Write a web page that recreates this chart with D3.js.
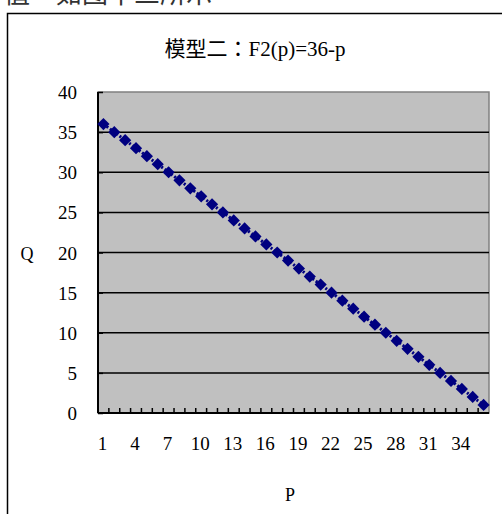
<!DOCTYPE html>
<html>
<head>
<meta charset="utf-8">
<script src="https://cdn.jsdelivr.net/npm/d3@7"></script>
<style>
  body { margin: 0; background: #fff; }
  text { font-family: "Liberation Serif", "Noto Sans CJK TC", serif; fill: #000; }
</style>
</head>
<body>
<div id="viz"></div>
<script>
// data
var categories = d3.range(1, 37); // P = 1..36
var qValues = [36, 35, 34, 33, 32, 31, 30, 29, 28, 27, 26, 25, 24, 23, 22, 21, 20, 19,
               18, 17, 16, 15, 14, 13, 12, 11, 10, 9, 8, 7, 6, 5, 4, 3, 2, 1];
var yTicks = [0, 5, 10, 15, 20, 25, 30, 35, 40];
var xTickLabels = [1, 4, 7, 10, 13, 16, 19, 22, 25, 28, 31, 34];
var title = "模型二：F2(p)=36-p";

var dataset = categories.map(function (c, i) { return { p: c, q: qValues[i] }; });

var W = 502, H = 514;
var plot = { left: 98, right: 489, top: 92, bottom: 413 };

var svg = d3.select("#viz").append("svg")
  .attr("width", W).attr("height", H);

// cut-off document text above the chart
svg.append("text")
  .attr("x", 4).attr("y", 3)
  .style("font-family", "Noto Sans CJK TC")
  .style("font-size", "26px")
  .style("fill", "#333")
  .text("值，如图十三所示");

// outer frame
svg.append("rect")
  .attr("x", 7.5).attr("y", 13.5)
  .attr("width", W + 20).attr("height", H + 20)
  .attr("fill", "#fff").attr("stroke", "#000").attr("stroke-width", 1.5);

var x = d3.scaleBand().domain(categories).range([plot.left, plot.right]).padding(0);
var y = d3.scaleLinear().domain([0, 40]).range([plot.bottom, plot.top]);

// plot area
svg.append("rect")
  .attr("x", plot.left).attr("y", plot.top)
  .attr("width", plot.right - plot.left).attr("height", plot.bottom - plot.top)
  .attr("fill", "#c0c0c0").attr("stroke", "#808080").attr("stroke-width", 1.5);

// gridlines
svg.selectAll(".grid")
  .data(yTicks.filter(function (d) { return d > 0 && d < 40; }))
  .enter().append("line")
  .attr("class", "grid")
  .attr("x1", plot.left).attr("x2", plot.right)
  .attr("y1", function (d) { return y(d); })
  .attr("y2", function (d) { return y(d); })
  .attr("stroke", "#000").attr("stroke-width", 1.5);

// y axis
var yAxis = d3.axisRight(y).tickValues(yTicks).tickSize(5).tickFormat("");
svg.append("g")
  .attr("transform", "translate(" + plot.left + ",0)")
  .call(yAxis)
  .call(function (g) {
    g.select(".domain").remove();
    g.selectAll("line").attr("stroke", "#000").attr("stroke-width", 1.5);
  });
svg.append("line")
  .attr("x1", plot.left).attr("x2", plot.left)
  .attr("y1", plot.top).attr("y2", plot.bottom)
  .attr("stroke", "#000").attr("stroke-width", 2);

svg.selectAll(".ylab")
  .data(yTicks)
  .enter().append("text")
  .attr("class", "ylab")
  .attr("x", 77)
  .attr("y", function (d) { return y(d) + 7; })
  .style("text-anchor", "end")
  .style("font-size", "19px")
  .text(function (d) { return d; });

// x axis: ticks at category boundaries pointing inward
var edges = categories.slice(1);
svg.selectAll(".xtick")
  .data(edges)
  .enter().append("line")
  .attr("class", "xtick")
  .attr("x1", function (d) { return x(d); })
  .attr("x2", function (d) { return x(d); })
  .attr("y1", plot.bottom).attr("y2", plot.bottom - 5)
  .attr("stroke", "#000").attr("stroke-width", 1.5);
svg.append("line")
  .attr("x1", plot.left).attr("x2", plot.right)
  .attr("y1", plot.bottom).attr("y2", plot.bottom)
  .attr("stroke", "#000").attr("stroke-width", 2);

svg.selectAll(".xlab")
  .data(xTickLabels)
  .enter().append("text")
  .attr("class", "xlab")
  .attr("x", function (d) { return x(d) + x.bandwidth() / 2 - 1; })
  .attr("y", 450)
  .style("text-anchor", "middle")
  .style("font-size", "19px")
  .text(function (d) { return d; });

// axis titles
svg.append("text")
  .attr("x", 27).attr("y", 260)
  .style("text-anchor", "middle")
  .style("font-size", "18px")
  .text("Q");
svg.append("text")
  .attr("x", 290).attr("y", 501)
  .style("text-anchor", "middle")
  .style("font-size", "18px")
  .text("P");

// chart title
svg.append("text")
  .attr("x", 255).attr("y", 56)
  .style("text-anchor", "middle")
  .style("font-size", "21px")
  .text(title);

// series line (dotted) and diamond markers
var line = d3.line()
  .x(function (d) { return x(d.p) + x.bandwidth() / 2; })
  .y(function (d) { return y(d.q); });
svg.append("path")
  .datum(dataset)
  .attr("d", line)
  .attr("fill", "none")
  .attr("stroke", "#000080")
  .attr("stroke-width", 3)
  .attr("stroke-dasharray", "2,2");

svg.selectAll(".pt")
  .data(dataset)
  .enter().append("path")
  .attr("class", "pt")
  .attr("d", d3.symbol().type(d3.symbolDiamond2).size(95))
  .attr("transform", function (d) {
    return "translate(" + (x(d.p) + x.bandwidth() / 2) + "," + y(d.q) + ")";
  })
  .attr("fill", "#000080");
</script>
</body>
</html>
